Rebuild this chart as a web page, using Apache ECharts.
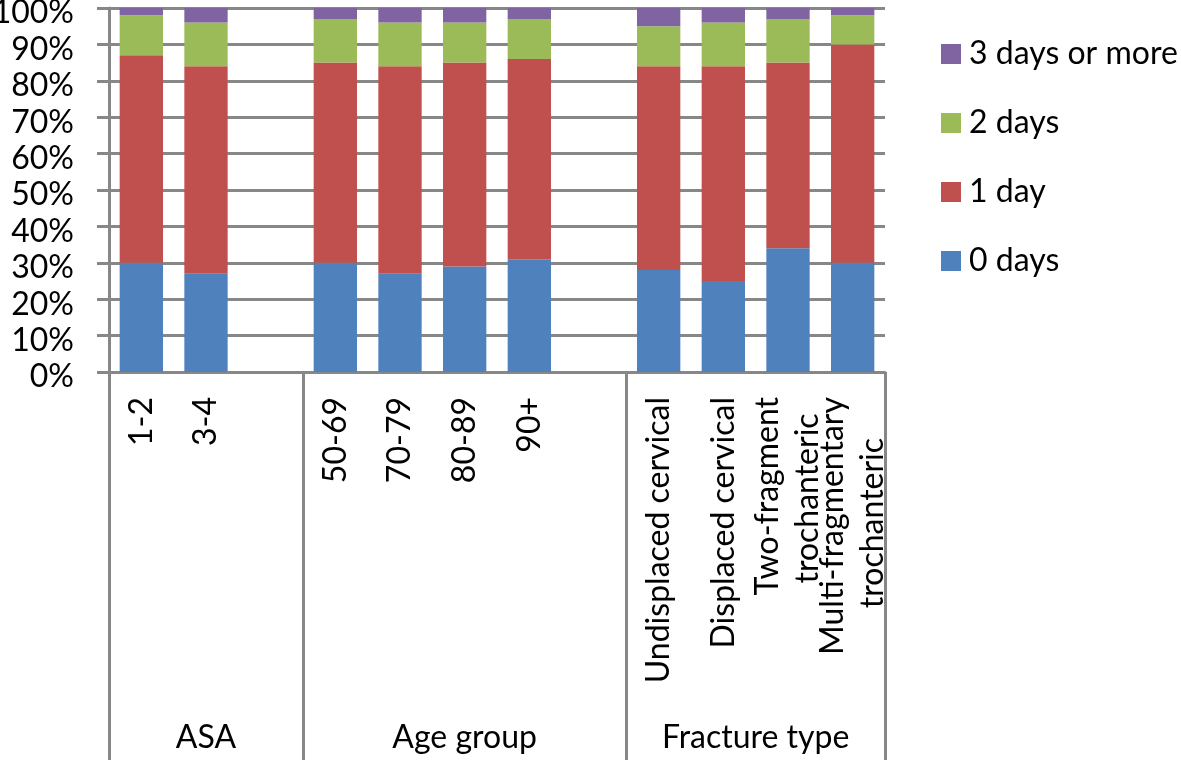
<!DOCTYPE html>
<html>
<head>
<meta charset="utf-8">
<script src="https://cdn.jsdelivr.net/npm/echarts@6/dist/echarts.min.js"></script>
<style>
  html, body { margin: 0; padding: 0; background: #fff; }
  #chart { width: 1181px; height: 760px; }
</style>
</head>
<body>
<div id="chart"></div>
<script>
// categories, with empty slots between the groups
const categories = [
  '1-2', '3-4', '',
  '50-69', '70-79', '80-89', '90+', '',
  'Undisplaced cervical', 'Displaced cervical', 'Two-fragment\ntrochanteric', 'Multi-fragmentary\ntrochanteric'
]
const zeroDays = [30, 27, '-', 30, 27, 29, 31, '-', 28, 25, 34, 30]
const oneDay = [57, 57, '-', 55, 57, 56, 55, '-', 56, 59, 51, 60]
const twoDays = [11, 12, '-', 12, 12, 11, 11, '-', 11, 12, 12, 8]
const threeOrMore = [2, 4, '-', 3, 4, 4, 3, '-', 5, 4, 3, 2]

const seriesNames = ['0 days', '1 day', '2 days', '3 days or more']
const seriesColors = ['#4F81BD', '#C0504D', '#9BBB59', '#8064A2']

// group labels and where each group starts / ends (in category slots)
const groupNames = ['ASA', 'Age group', 'Fracture type']
const groupBounds = [0, 3, 8, 12]

const FONT = 'Lato'
const FONT_SIZE = 32
const GRAY = '#878787'

const groupCenters = {}
groupNames.forEach((name, i) => {
  groupCenters[(groupBounds[i] + groupBounds[i + 1]) / 2] = name
})

// center the lines of a wrapped (rotated) label by padding the shorter ones
const measureCtx = document.createElement('canvas').getContext('2d')
measureCtx.font = FONT_SIZE + 'px ' + FONT
const centerLines = (label) => {
  const lines = label.split('\n')
  if (lines.length < 2) return label
  const widths = lines.map((l) => measureCtx.measureText(l).width)
  const maxW = Math.max(...widths)
  const spaceW = measureCtx.measureText(' ').width
  return lines
    .map((l, i) => l + ' '.repeat(Math.round((maxW - widths[i]) / 2 / spaceW)))
    .join('\n')
}

const chart = echarts.init(document.getElementById('chart'))

const barSeries = [zeroDays, oneDay, twoDays, threeOrMore].map((data, i) => ({
  name: seriesNames[i],
  type: 'bar',
  stack: 'total',
  data: data,
  barCategoryGap: '33%',
  itemStyle: { color: seriesColors[i] },
  xAxisIndex: 0,
  yAxisIndex: 0,
}))

chart.setOption({
  animation: false,
  backgroundColor: '#ffffff',
  textStyle: { fontFamily: FONT },
  grid: [
    { left: 109, right: 296, top: 8, height: 364, outerBoundsMode: 'none' },
    { left: 109, right: 296, top: 372, bottom: 0, outerBoundsMode: 'none' },
  ],
  legend: {
    orient: 'vertical',
    left: 941,
    top: 38,
    padding: 0,
    icon: 'rect',
    itemWidth: 20,
    itemHeight: 20,
    itemGap: 37,
    data: [...seriesNames].reverse(),
    textStyle: { fontFamily: FONT, fontSize: FONT_SIZE, color: '#000', lineHeight: 30, padding: [0, 0, 0, 3] },
  },
  xAxis: [
    {
      type: 'category',
      gridIndex: 0,
      data: categories,
      axisLine: { show: true, lineStyle: { color: GRAY, width: 3 } },
      axisTick: { show: false },
      axisLabel: {
        rotate: 90,
        interval: 0,
        margin: 25,
        fontFamily: FONT,
        fontSize: FONT_SIZE,
        color: '#000',
        lineHeight: 40,
        formatter: centerLines,
      },
    },
    {
      type: 'value',
      gridIndex: 1,
      min: 0,
      max: 12,
      interval: 0.5,
      axisLine: { show: false },
      axisTick: { show: false },
      splitLine: { show: false },
      axisLabel: {
        inside: true,
        margin: 6,
        fontFamily: FONT,
        fontSize: FONT_SIZE,
        color: '#000',
        formatter: (v) => groupCenters[v] || '',
      },
    },
  ],
  yAxis: [
    {
      type: 'value',
      gridIndex: 0,
      min: 0,
      max: 100,
      interval: 10,
      axisLine: { show: true, lineStyle: { color: GRAY, width: 3 } },
      axisTick: { show: true, length: 12, lineStyle: { color: GRAY, width: 3 } },
      splitLine: { show: true, lineStyle: { color: GRAY, width: 3 } },
      axisLabel: {
        margin: 35,
        formatter: (v) => '{p|' + v + '%}',
        rich: {
          p: {
            fontFamily: FONT,
            fontSize: FONT_SIZE,
            color: '#000',
            padding: [10, 0, 0, 0],
          },
        },
      },
    },
    {
      type: 'value',
      gridIndex: 1,
      min: 0,
      max: 1,
      show: false,
    },
  ],
  series: [
    ...barSeries,
    {
      name: 'group-lines',
      type: 'line',
      xAxisIndex: 1,
      yAxisIndex: 1,
      data: [],
      silent: true,
      markLine: {
        silent: true,
        symbol: 'none',
        label: { show: false },
        lineStyle: { color: GRAY, width: 3, type: 'solid' },
        data: groupBounds.map((b) => ({ xAxis: b })),
      },
    },
  ],
})
</script>
</body>
</html>
